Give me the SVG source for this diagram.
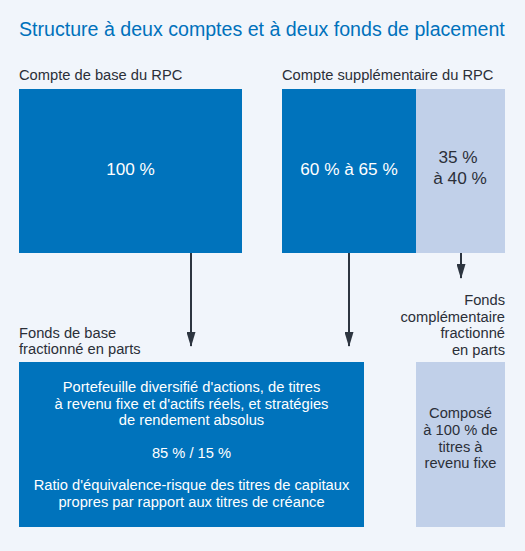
<svg xmlns="http://www.w3.org/2000/svg" width="525" height="551" viewBox="0 0 525 551">
<defs>
<style>
.t{font-family:"Liberation Sans",Arial,sans-serif;}
.title{font-size:19.6px;fill:#0071bb;}
.lbl{font-size:14.7px;fill:#2b2f38;}
.pct{font-size:17.2px;}
.body{font-size:14.7px;}
.w{fill:#ffffff;}
.d{fill:#2b2f38;}
.dark{fill:#0073bc;}
.light{fill:#c1d0e9;}
.conn{stroke:#2d3540;stroke-width:2;fill:none;}
</style>
<marker id="ah" viewBox="0 0 15 9" refX="14" refY="4.5" markerWidth="15" markerHeight="9" markerUnits="userSpaceOnUse" orient="auto">
<path d="M0,0 L15,4.5 L0,9 Z" fill="#2d3540"/>
</marker>
</defs>
<rect x="0" y="0" width="525" height="551" fill="#f1f5fb"/>
<text class="t title" x="19" y="36">Structure à deux comptes et à deux fonds de placement</text>

<g id="compte-base">
<text class="t lbl" x="19" y="80">Compte de base du RPC</text>
<rect class="dark" x="19" y="89" width="223" height="164"/>
<text class="t pct w" x="130.5" y="175" text-anchor="middle">100 %</text>
</g>

<g id="compte-supp">
<text class="t lbl" x="282" y="80">Compte supplémentaire du RPC</text>
<rect class="dark" x="282" y="89" width="134" height="164"/>
<rect class="light" x="416" y="89" width="89" height="164"/>
<text class="t pct w" x="349" y="175" text-anchor="middle">60 % à 65 %</text>
<text class="t pct d" x="458" y="163" text-anchor="middle">35 %</text>
<text class="t pct d" x="460" y="184" text-anchor="middle">à 40 %</text>
</g>

<g id="fonds-base">
<text class="t lbl" x="19" y="338">Fonds de base</text>
<text class="t lbl" x="19" y="354">fractionné en parts</text>
<rect class="dark" x="19" y="362" width="345" height="165"/>
<g class="t body w" text-anchor="middle">
<text x="191.5" y="392">Portefeuille diversifié d'actions, de titres</text>
<text x="191.5" y="408.5">à revenu fixe et d'actifs réels, et stratégies</text>
<text x="191.5" y="425">de rendement absolus</text>
<text x="191.5" y="457.5">85 % / 15 %</text>
<text x="191.5" y="490">Ratio d'équivalence-risque des titres de capitaux</text>
<text x="191.5" y="506.5">propres par rapport aux titres de créance</text>
</g>
</g>

<g id="fonds-comp">
<g class="t lbl" text-anchor="end">
<text x="505" y="305">Fonds</text>
<text x="505" y="321.5">complémentaire</text>
<text x="505" y="338">fractionné</text>
<text x="505" y="354.5">en parts</text>
</g>
<rect class="light" x="416" y="362" width="89" height="165"/>
<g class="t body d" text-anchor="middle">
<text x="460.5" y="418">Composé</text>
<text x="460.5" y="435">à 100 % de</text>
<text x="460.5" y="451.5">titres à</text>
<text x="460.5" y="468">revenu fixe</text>
</g>
</g>

<g id="connectors">
<line class="conn" x1="191" y1="253" x2="191" y2="346" marker-end="url(#ah)"/>
<line class="conn" x1="349" y1="253" x2="349" y2="346" marker-end="url(#ah)"/>
<line class="conn" x1="461" y1="253" x2="461" y2="278" marker-end="url(#ah)"/>
</g>
</svg>
